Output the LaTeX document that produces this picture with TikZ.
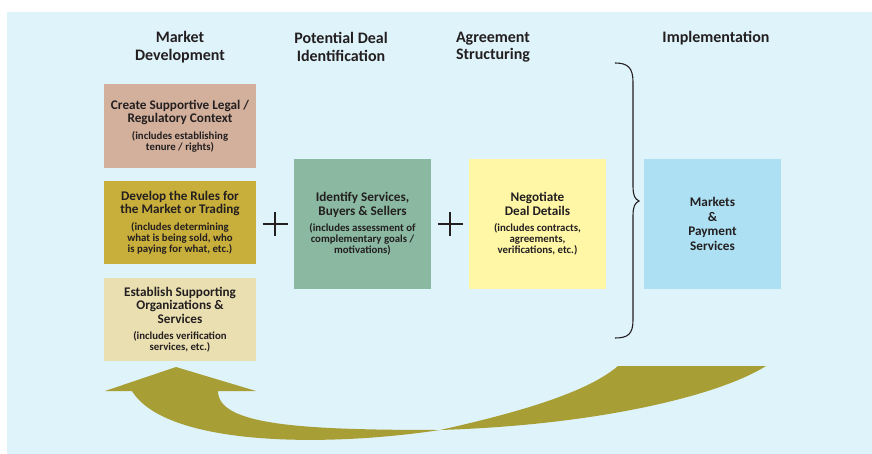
\documentclass[tikz,border=0pt]{standalone}
\usepackage{fontspec}
\setmainfont{Carlito}
\definecolor{bgblue}{HTML}{DFF3FA}
\definecolor{txt}{HTML}{231F20}
\definecolor{cLegal}{HTML}{D3B09C}
\definecolor{cRules}{HTML}{C8AE3A}
\definecolor{cOrg}{HTML}{EADFB0}
\definecolor{cGreen}{HTML}{8AB8A0}
\definecolor{cYellow}{HTML}{FFF7A6}
\definecolor{cBlue}{HTML}{ADE0F3}
\definecolor{cArrow}{HTML}{A89E36}
\newcommand{\myttlfont}{\fontsize{13.2}{13.4}\selectfont\bfseries}
\newcommand{\mysubfont}{\fontsize{10.8}{11.6}\selectfont\bfseries}
\newcommand{\subbr}{\\[-2.4pt]\mysubfont}
\tikzset{
  boxnode/.style={inner sep=0pt, align=center, text=txt, font=\myttlfont},
  header/.style={inner sep=0pt, align=center, text=txt, font=\fontsize{16}{17.5}\selectfont\bfseries},
  plussign/.style={draw=txt, line width=2.2pt},
  bracestyle/.style={draw=txt, line width=1.1pt},
}
\begin{document}
\begin{tikzpicture}[x=1pt,y=-1pt]
\useasboundingbox (0,0) rectangle (872,454);
\fill[white] (0,0) rectangle (872,454);
\fill[bgblue] (7,12) rectangle (872,454);

% headers
\node[header] (h1) at (180,47) {Market\\Development};
\node[header] (h2) at (341,47) {Potential Deal\\Identification};
\node[header] (h3) at (493,47) {Agreement\\Structuring};
\node[header] (h4) at (716,38) {Implementation};

% boxes
\node[boxnode, fill=cLegal, minimum width=152pt, minimum height=84pt] (b1) at (180,126)
  {Create Supportive Legal /\\Regulatory Context\\[3pt]\mysubfont (includes establishing\subbr tenure / rights)};
\node[boxnode, fill=cRules, minimum width=152pt, minimum height=83pt] (b2) at (180,222.5)
  {Develop the Rules for\\the Market or Trading\\[3pt]\mysubfont (includes determining\subbr what is being sold, who\subbr is paying for what, etc.)};
\node[boxnode, fill=cOrg, minimum width=152pt, minimum height=83pt] (b3) at (180,319.5)
  {Establish Supporting\\Organizations \&\\Services\\[3pt]\mysubfont (includes verification\subbr services, etc.)};
\node[boxnode, fill=cGreen, minimum width=137pt, minimum height=130pt] (g) at (362.5,224)
  {Identify Services,\\Buyers \& Sellers\\[3pt]\mysubfont (includes assessment of\subbr complementary goals /\subbr motivations)};
\node[boxnode, fill=cYellow, minimum width=137pt, minimum height=130pt] (y) at (537.5,224)
  {Negotiate\\Deal Details\\[3pt]\mysubfont (includes contracts,\subbr agreements,\subbr verifications, etc.)};
\node[boxnode, fill=cBlue, minimum width=137pt, minimum height=130pt, font=\fontsize{13.2}{14.5}\selectfont\bfseries] (m) at (712.5,224)
  {Markets\\\&\\Payment\\Services};

% plus signs
\coordinate (p1) at (275,224);
\coordinate (p2) at (450,224);
\draw[plussign] ([yshift=-12pt]p1) -- ([yshift=12pt]p1) ([xshift=-12.5pt]p1) -- ([xshift=12.5pt]p1);
\draw[plussign] ([yshift=-12pt]p2) -- ([yshift=12pt]p2) ([xshift=-12.5pt]p2) -- ([xshift=12.5pt]p2);

% brace
\draw[bracestyle] (615,63) .. controls (628,63) and (633,68) .. (633,82)
  -- (633,186) .. controls (633,196) and (635,199) .. (639,201)
  .. controls (635,203) and (633,206) .. (633,216)
  -- (633,320) .. controls (633,334) and (628,338) .. (615,338);

% curved return arrow
\fill[cArrow] (176,367) -- (256,391) -- (218,391)
  .. controls (218,425) and (300,430) .. (440,430)
  .. controls (320,448) and (165,445) .. (132,391)
  -- (105,391) -- cycle;
\fill[cArrow] (440,430) .. controls (600,425) and (720,395) .. (766,366)
  -- (618,366) .. controls (590,390) and (530,410) .. (440,430) -- cycle;
\end{tikzpicture}
\end{document}
